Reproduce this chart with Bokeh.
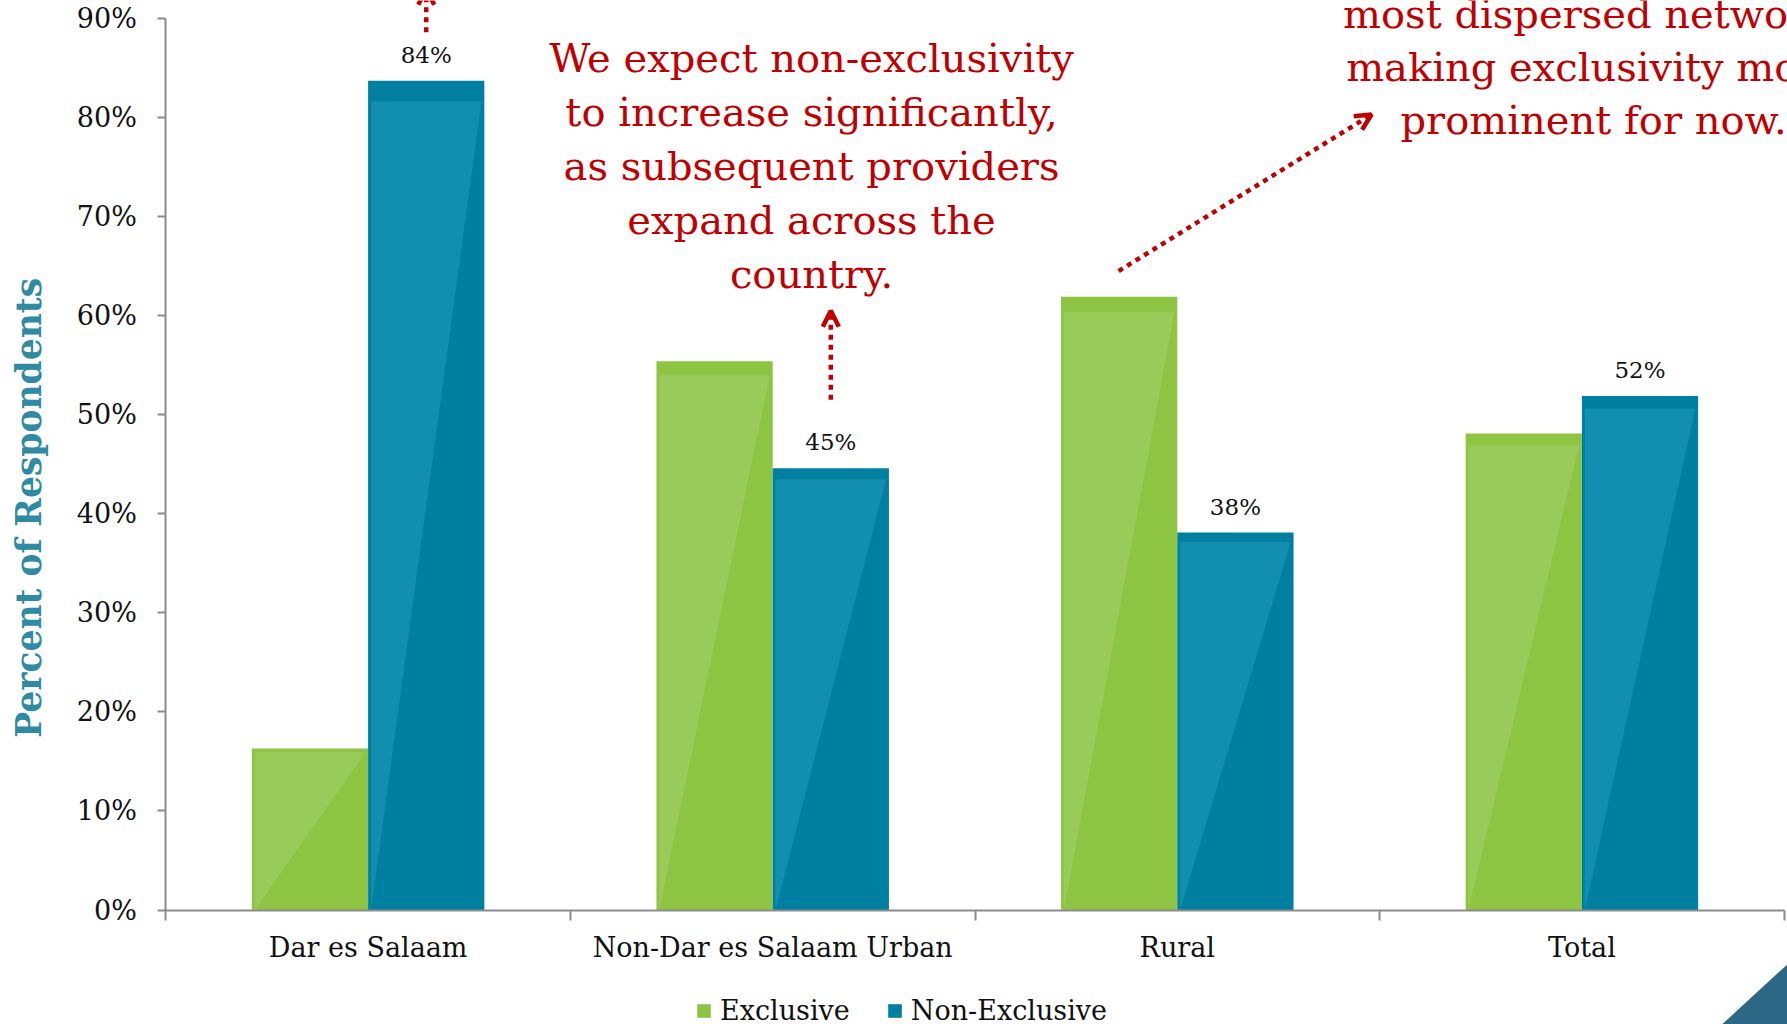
import math
from bokeh.plotting import figure
from bokeh.models import (Range1d, FixedTicker, Label, Arrow, OpenHead, Legend,
                          LegendItem, PolyAnnotation)
from bokeh.embed import file_html
from bokeh.resources import INLINE
from bokeh.core.properties import value

# ---------------- data ----------------
categories = ["Dar es Salaam", "Non-Dar es Salaam Urban", "Rural", "Total"]
series_names = ["Exclusive", "Non-Exclusive"]
exclusive = [16.3, 55.4, 61.9, 48.1]
non_exclusive = [83.7, 44.6, 38.1, 51.9]
non_exclusive_labels = ["84%", "45%", "38%", "52%"]
y_ticks = [0, 10, 20, 30, 40, 50, 60, 70, 80, 90]
y_tick_labels = ["0%", "10%", "20%", "30%", "40%", "50%", "60%", "70%", "80%", "90%"]
y_axis_title = "Percent of Respondents"
note_center_lines = ["We expect non-exclusivity", "to increase significantly,",
                     "as subsequent providers", "expand across the", "country."]
note_right_lines = ["most dispersed network,", "making exclusivity more",
                    "prominent for now."]

# ---------------- style ----------------
FONT = "DejaVu Serif"
GREEN, GREEN_LIGHT = "#8DC441", "#99CB5A"
BLUE, BLUE_LIGHT = "#0080A0", "#128EB1"
RED = "#C00000"
TEAL = "#2F8AA3"
AXIS_GRAY = "#8C8C8C"

W, H = 1787, 1024
X0_PX, CAT_PX = 165.3, 404.6      # pixel of x=0, pixels per category
Y0_PX, PCT_PX = 909.5, 9.906      # pixel of y=0, pixels per percent
BAR_W = 0.2873

x_range = Range1d(-X0_PX / CAT_PX, (W - X0_PX) / CAT_PX)
y_range = Range1d((Y0_PX - H) / PCT_PX, Y0_PX / PCT_PX)

p = figure(width=W, height=H, x_range=x_range, y_range=y_range,
           output_backend="svg", toolbar_location=None, min_border=0,
           outline_line_color=None, background_fill_color="white",
           border_fill_color="white")
p.xgrid.visible = False
p.ygrid.visible = False

n = len(categories)
x_ex = [i + 0.5 - BAR_W / 2 for i in range(n)]
x_nx = [i + 0.5 + BAR_W / 2 for i in range(n)]

r_ex = p.vbar(x=x_ex, top=exclusive, width=BAR_W, fill_color=GREEN, line_color=None)
r_nx = p.vbar(x=x_nx, top=non_exclusive, width=BAR_W, fill_color=BLUE, line_color=None)

inset = 0.007
def sheen(xc, vals):
    xs = [[x - BAR_W / 2 + inset, x - BAR_W / 2 + inset, x + BAR_W / 2 - inset] for x in xc]
    ys = [[0, v * 0.975, v * 0.975] for v in vals]
    return xs, ys

xs, ys = sheen(x_ex, exclusive)
p.patches(xs, ys, fill_color=GREEN_LIGHT, line_color=None)
xs, ys = sheen(x_nx, non_exclusive)
p.patches(xs, ys, fill_color=BLUE_LIGHT, line_color=None)

p.text(x=x_nx, y=non_exclusive, text=non_exclusive_labels, text_align="center",
       text_baseline="alphabetic", y_offset=-26, text_font=value(FONT),
       text_font_size="23px", text_color="#111111")

# ---------------- axes (fixed inside the frame) ----------------
yax = p.yaxis[0]
yax.fixed_location = 0
yax.bounds = (0, 90)
yax.ticker = FixedTicker(ticks=y_ticks, minor_ticks=[])
yax.major_label_overrides = {t: l for t, l in zip(y_ticks, y_tick_labels)}
yax.axis_line_color = AXIS_GRAY
yax.axis_line_width = 2
yax.major_tick_line_color = AXIS_GRAY
yax.major_tick_line_width = 2
yax.major_tick_out = 8
yax.major_tick_in = 0
yax.minor_tick_line_color = None
yax.major_label_standoff = 21
yax.major_label_text_font = FONT
yax.major_label_text_font_size = "27px"
yax.major_label_text_color = "#111111"

xax = p.xaxis[0]
xax.fixed_location = 0
xax.bounds = (0, n)
centers = [i + 0.5 for i in range(n)]
xax.ticker = FixedTicker(ticks=centers, minor_ticks=list(range(n + 1)))
xax.major_label_overrides = {c: name for c, name in zip(centers, categories)}
xax.axis_line_color = AXIS_GRAY
xax.axis_line_width = 2
xax.major_tick_line_color = None
xax.major_tick_out = 0
xax.major_tick_in = 0
xax.minor_tick_line_color = AXIS_GRAY
xax.minor_tick_line_width = 2
xax.minor_tick_out = 10
xax.minor_tick_in = 0
xax.major_label_standoff = 12
xax.major_label_text_font = FONT
xax.major_label_text_font_size = "27px"
xax.major_label_text_color = "#111111"

# y-axis title
p.add_layout(Label(x=-0.3393, y=40.6, text=y_axis_title, angle=math.pi / 2,
                   text_align="center", text_baseline="middle", text_font=FONT,
                   text_font_size="34.5px", text_font_style="bold", text_color=TEAL))

# ---------------- legend ----------------
legend = Legend(items=[LegendItem(label=series_names[0], renderers=[r_ex]),
                       LegendItem(label=series_names[1], renderers=[r_nx])],
                orientation="horizontal", location=(695, -2),
                glyph_width=17, glyph_height=17, label_standoff=8, spacing=36,
                padding=0, margin=0, border_line_color=None,
                background_fill_alpha=0, label_text_font=FONT,
                label_text_font_size="27px", label_text_color="#111111")
p.add_layout(legend)

# ---------------- annotations ----------------
for k, line in enumerate(note_center_lines):
    p.add_layout(Label(x=1.596, y=86.05 - 5.45 * k, text=line, text_align="center",
                       text_baseline="alphabetic", text_font=FONT,
                       text_font_size="40px", text_color=RED))
for k, line in enumerate(note_right_lines):
    p.add_layout(Label(x=3.529, y=90.5 - 5.4 * k, text=line, text_align="center",
                       text_baseline="alphabetic", text_font=FONT,
                       text_font_size="40px", text_color=RED))

def arrow(x0, y0, x1, y1):
    p.add_layout(Arrow(end=OpenHead(size=16, line_color=RED, line_width=4.5),
                       x_start=x0, y_start=y0, x_end=x1, y_end=y1,
                       line_color=RED, line_width=4.5, line_dash="5 5"))

arrow(x_nx[0], 88.6, x_nx[0], 93.0)
arrow(x_nx[1], 51.5, x_nx[1], 60.5)
arrow(2.355, 64.5, 2.980, 80.3)

# corner decoration (slide background)
p.add_layout(PolyAnnotation(xs=[4.01, 3.845, 4.01], ys=[-5.4, -11.6, -11.6],
                            fill_color="#2D6786", fill_alpha=1, line_color=None))

open("out.html", "w").write(file_html(p, INLINE))
